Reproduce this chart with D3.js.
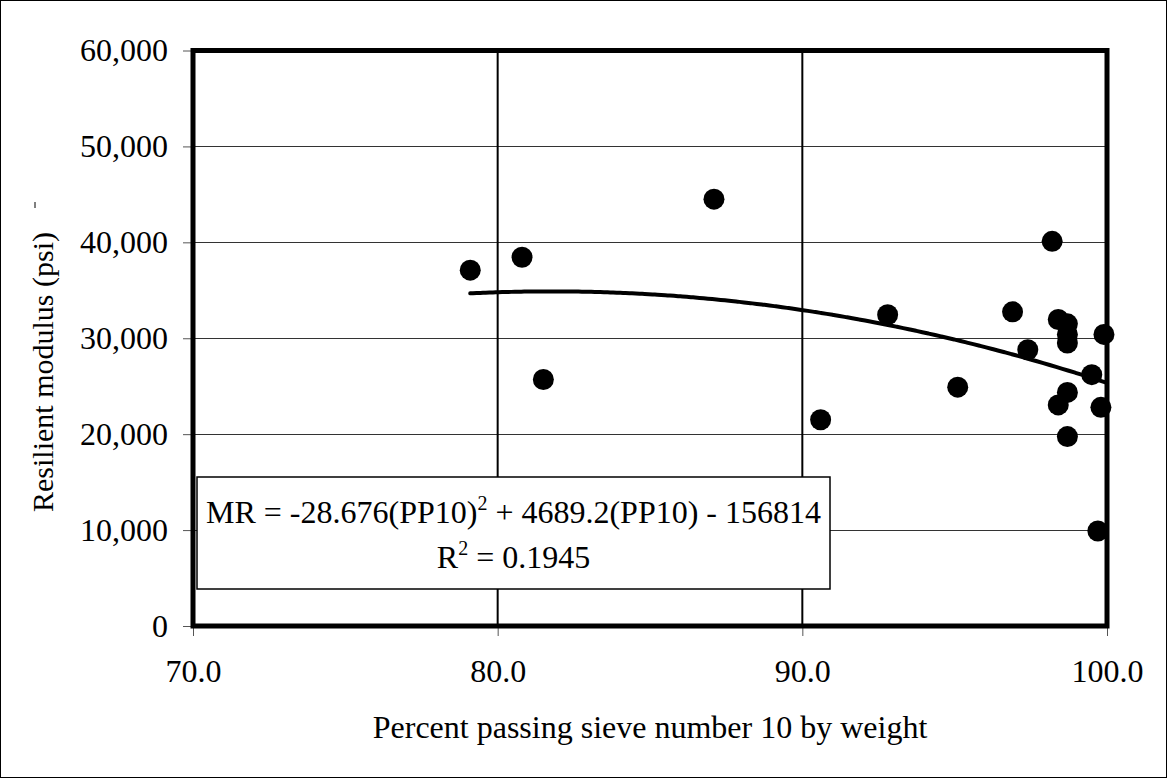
<!DOCTYPE html>
<html>
<head>
<meta charset="utf-8">
<script src="https://cdn.jsdelivr.net/npm/d3@7"></script>
<style>
  html, body { margin: 0; padding: 0; background: #fff; }
  svg { display: block; }
  text { font-family: "Liberation Serif", "Times New Roman", serif; fill: #000; }
</style>
</head>
<body>
<svg id="chart" width="1167" height="778"></svg>
<script>
// Percent passing sieve No. 10 (PP10) vs. resilient modulus (MR, psi)
const pp10 = [79.1, 80.8, 81.5, 87.1, 90.6, 92.8, 95.1, 96.9, 97.4, 98.2, 98.4,
              98.7, 98.7, 98.7, 98.4, 98.7, 98.7, 99.5, 99.8, 99.9, 99.7];
const modulus = [37100, 38450, 25700, 44500, 21500, 32450, 24900, 32750, 28800, 40100, 31950,
                 31500, 30400, 29500, 23050, 24350, 19750, 26200, 22800, 30400, 9900];

// Second-order polynomial trend: MR = a*PP10^2 + b*PP10 + c
const trendCoef = [-28.676, 4689.2, -156814];
const rSquared = 0.1945;

const xTicks = [70, 80, 90, 100];
const yTicks = [0, 10000, 20000, 30000, 40000, 50000, 60000];
const xGrid = [80, 90];
const yGrid = [10000, 20000, 30000, 40000, 50000];

const svg = d3.select("#chart");
const W = 1167, H = 778;
const plot = { left: 193, right: 1107, top: 50.5, bottom: 626 };

const x = d3.scaleLinear().domain([70, 100]).range([plot.left, plot.right]);
const y = d3.scaleLinear().domain([0, 60000]).range([plot.bottom, plot.top]);

// outer frame
svg.append("rect").attr("x", 0.5).attr("y", 0.5).attr("width", W - 1).attr("height", H - 1)
  .attr("fill", "#fff").attr("stroke", "#000").attr("stroke-width", 1);

// horizontal gridlines
svg.append("g").selectAll("line").data(yGrid).join("line")
  .attr("x1", plot.left).attr("x2", plot.right)
  .attr("y1", d => Math.round(y(d)) + 0.5).attr("y2", d => Math.round(y(d)) + 0.5)
  .attr("stroke", "#333").attr("stroke-width", 1);

// vertical gridlines
svg.append("g").selectAll("line").data(xGrid).join("line")
  .attr("x1", d => x(d)).attr("x2", d => x(d))
  .attr("y1", plot.top).attr("y2", plot.bottom)
  .attr("stroke", "#000").attr("stroke-width", 2);

// axes with outward ticks
const yAxis = d3.axisLeft(y).tickValues(yTicks).tickFormat(d3.format(",")).tickSize(10).tickPadding(15);
const xAxis = d3.axisBottom(x).tickValues(xTicks).tickFormat(d3.format(".1f")).tickSize(10).tickPadding(23);

const gy = svg.append("g").attr("transform", `translate(${plot.left},0)`).call(yAxis);
const gx = svg.append("g").attr("transform", `translate(0,${plot.bottom})`).call(xAxis);
[gy, gx].forEach(g => {
  g.select(".domain").remove();
  g.selectAll(".tick line").attr("stroke", "#555").attr("stroke-width", 1);
  g.selectAll(".tick text").style("font-family", '"Liberation Serif", serif')
    .style("font-size", "32px").attr("fill", "#000");
});

// trend curve over the observed PP10 range
const trend = v => trendCoef[0] * v * v + trendCoef[1] * v + trendCoef[2];
const xr = d3.extent(pp10);
const curvePts = d3.range(0, 101).map(i => {
  const v = xr[0] + (xr[1] - xr[0] + 0.1) * i / 100;
  return [v, trend(v)];
});
svg.append("path").datum(curvePts)
  .attr("d", d3.line().x(d => x(d[0])).y(d => y(d[1])).curve(d3.curveMonotoneX))
  .attr("fill", "none").attr("stroke", "#000").attr("stroke-width", 4)
  .attr("stroke-linecap", "round");

// observations
svg.append("g").selectAll("circle").data(pp10.map((v, i) => [v, modulus[i]])).join("circle")
  .attr("cx", d => x(d[0])).attr("cy", d => y(d[1])).attr("r", 10.5).attr("fill", "#000");

// equation box
const box = svg.append("g");
box.append("rect").attr("x", 197).attr("y", 477).attr("width", 633).attr("height", 112)
  .attr("fill", "#fff").attr("stroke", "#000").attr("stroke-width", 1.5);
const eq = box.append("text").attr("x", 513.5).attr("y", 523).attr("text-anchor", "middle")
  .style("font-size", "32px");
eq.append("tspan").text(`MR = ${trendCoef[0]}(PP10)`);
eq.append("tspan").attr("dy", -13).style("font-size", "20px").text("2");
eq.append("tspan").attr("dy", 13).text(` + ${trendCoef[1]}(PP10) - ${Math.abs(trendCoef[2])}`);
const r2 = box.append("text").attr("x", 513.5).attr("y", 568).attr("text-anchor", "middle")
  .style("font-size", "32px");
r2.append("tspan").text("R");
r2.append("tspan").attr("dy", -13).style("font-size", "20px").text("2");
r2.append("tspan").attr("dy", 13).text(` = ${rSquared}`);

// plot area border
svg.append("rect").attr("x", plot.left).attr("y", plot.top)
  .attr("width", plot.right - plot.left).attr("height", plot.bottom - plot.top)
  .attr("fill", "none").attr("stroke", "#000").attr("stroke-width", 5);

// axis titles
svg.append("text").attr("x", 650).attr("y", 738).attr("text-anchor", "middle")
  .style("font-size", "32px").text("Percent passing sieve number 10 by weight");
svg.append("text").attr("transform", "translate(53,372) rotate(-90)").attr("text-anchor", "middle")
  .style("font-size", "30px").text("Resilient modulus (psi)");
svg.append("line").attr("x1", 35).attr("x2", 35).attr("y1", 202).attr("y2", 208)
  .attr("stroke", "#000").attr("stroke-width", 1);
</script>
</body>
</html>
